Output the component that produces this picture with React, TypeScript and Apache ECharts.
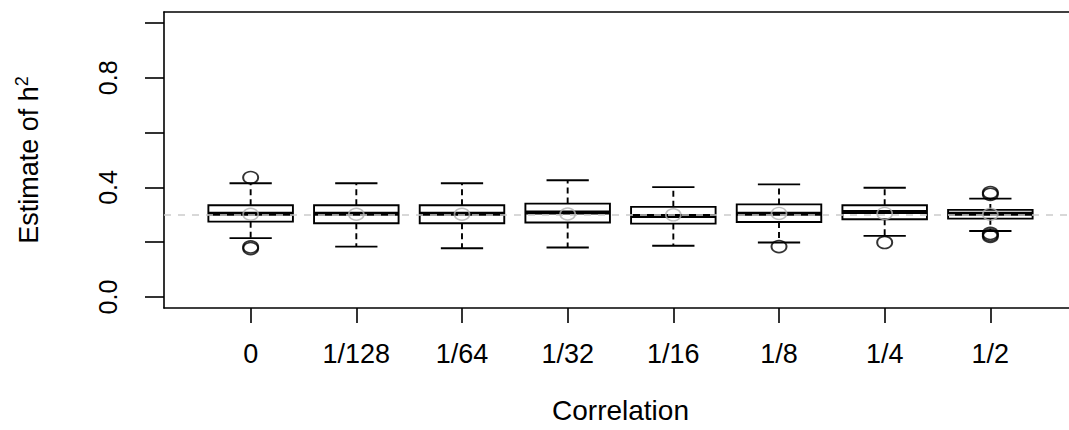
import React, { useEffect, useRef } from "react";
import * as echarts from "echarts";

const categories = ["0", "1/128", "1/64", "1/32", "1/16", "1/8", "1/4", "1/2"];
const whiskerLow = [0.215, 0.184, 0.178, 0.181, 0.187, 0.199, 0.223, 0.241];
const q1 = [0.275, 0.269, 0.269, 0.272, 0.268, 0.274, 0.284, 0.286];
const median = [0.304, 0.304, 0.304, 0.308, 0.296, 0.304, 0.31, 0.304];
const q3 = [0.335, 0.335, 0.335, 0.341, 0.329, 0.338, 0.335, 0.318];
const whiskerHigh = [0.415, 0.415, 0.415, 0.426, 0.401, 0.411, 0.399, 0.359];
const means = [0.302, 0.302, 0.302, 0.303, 0.3, 0.305, 0.305, 0.302];
const outlierGroup = [1, 1, 1, 6, 7, 8, 8, 8, 8, 8];
const outlierValue = [0.436, 0.183, 0.177, 0.184, 0.199, 0.381, 0.375, 0.232, 0.226, 0.221];
const trueH2 = 0.3;
const yTicks = [0, 0.2, 0.4, 0.6, 0.8, 1.0];
const yLabels = [0, 0.4, 0.8];

const FONT = "Liberation Sans, Arial, Helvetica, sans-serif";

export default function App() {
  const ref = useRef<HTMLDivElement>(null);
  useEffect(() => {
    if (!ref.current) return;
    const chart = echarts.init(ref.current, null, { renderer: "svg" });
    const positions = categories.map((_, i) => i + 1);
    const boxData = categories.map((_, i) => [
      positions[i],
      whiskerLow[i],
      q1[i],
      median[i],
      q3[i],
      whiskerHigh[i],
    ]);
    const renderItem = (params: any, api: any) => {
      const x = api.value(0);
      const pLo = api.coord([x, api.value(1)]);
      const pQ1 = api.coord([x, api.value(2)]);
      const pMed = api.coord([x, api.value(3)]);
      const pQ3 = api.coord([x, api.value(4)]);
      const pHi = api.coord([x, api.value(5)]);
      const w = api.size([0.8, 0])[0];
      const cx = pMed[0];
      const black = "#000";
      const lw = 1.9;
      return {
        type: "group",
        children: [
          {
            type: "line",
            shape: { x1: cx, y1: pQ3[1], x2: cx, y2: pHi[1] },
            style: { stroke: black, lineWidth: lw, lineDash: [6, 4] },
          },
          {
            type: "line",
            shape: { x1: cx, y1: pQ1[1], x2: cx, y2: pLo[1] },
            style: { stroke: black, lineWidth: lw, lineDash: [6, 4] },
          },
          {
            type: "line",
            shape: { x1: cx - w / 4, y1: pHi[1], x2: cx + w / 4, y2: pHi[1] },
            style: { stroke: black, lineWidth: lw },
          },
          {
            type: "line",
            shape: { x1: cx - w / 4, y1: pLo[1], x2: cx + w / 4, y2: pLo[1] },
            style: { stroke: black, lineWidth: lw },
          },
          {
            type: "rect",
            shape: { x: cx - w / 2, y: pQ3[1], width: w, height: pQ1[1] - pQ3[1] },
            style: { fill: "none", stroke: black, lineWidth: lw },
          },
          {
            type: "line",
            shape: { x1: cx - w / 2, y1: pMed[1], x2: cx + w / 2, y2: pMed[1] },
            style: { stroke: black, lineWidth: 4 },
          },
        ],
      };
    };

    chart.setOption({
      animation: false,
      grid: {
        left: 164,
        top: 12,
        right: -8,
        height: 296,
        show: false,
        containLabel: false,
        outerBoundsMode: "none",
      },
      xAxis: [
        {
          type: "value",
          min: 0.18,
          max: 8.82,
          name: "Correlation",
          nameLocation: "middle",
          nameGap: 88,
          nameTextStyle: { fontSize: 28, color: "#000", fontFamily: FONT },
          axisLine: { show: true, onZero: false, lineStyle: { color: "#000", width: 1.6 } },
          axisTick: {
            show: true,
            length: 15,
            customValues: positions,
            lineStyle: { color: "#000", width: 1.6 },
          },
          axisLabel: {
            customValues: positions,
            formatter: (v: number) => categories[Math.round(v) - 1] ?? "",
            fontSize: 27,
            color: "#000",
            fontFamily: FONT,
            margin: 32,
          },
          splitLine: { show: false },
        },
        {
          type: "value",
          position: "top",
          min: 0.18,
          max: 8.82,
          axisLine: { show: true, onZero: false, lineStyle: { color: "#000", width: 1.6 } },
          axisTick: { show: false },
          axisLabel: { show: false },
          splitLine: { show: false },
        },
      ],
      yAxis: {
        type: "value",
        min: -0.04,
        max: 1.04,
        name: "Estimate of h{sup|2}",
        nameLocation: "middle",
        nameGap: 120,
        nameTextStyle: {
          fontSize: 27,
          color: "#000",
          fontFamily: FONT,
          rich: {
            sup: { fontSize: 18, color: "#000", fontFamily: FONT, padding: [0, 0, 13, 0] },
          },
        },
        axisLine: { show: true, onZero: false, lineStyle: { color: "#000", width: 1.6 } },
        axisTick: {
          show: true,
          length: 19,
          customValues: yTicks,
          lineStyle: { color: "#000", width: 1.6 },
        },
        axisLabel: {
          customValues: yLabels,
          formatter: (v: number) => v.toFixed(1),
          rotate: 90,
          fontSize: 25,
          color: "#000",
          fontFamily: FONT,
          margin: 44,
        },
        splitLine: { show: false },
      },
      series: [
        {
          type: "custom",
          renderItem,
          data: boxData,
          encode: { x: 0, y: [1, 2, 3, 4, 5] },
          z: 2,
          silent: true,
        },
        {
          type: "scatter",
          data: outlierGroup.map((g, i) => [g, outlierValue[i]]),
          symbol: "circle",
          symbolSize: [15, 12],
          itemStyle: { color: "transparent", borderColor: "#000", borderWidth: 1.8 },
          z: 3,
          silent: true,
        },
        {
          type: "line",
          data: [],
          z: 4,
          markLine: {
            silent: true,
            symbol: ["none", "none"],
            label: { show: false },
            lineStyle: { color: "#cccccc", type: [7, 7], width: 1.6 },
            data: [{ yAxis: trueH2 }],
          },
        },
        {
          type: "scatter",
          data: positions.map((p, i) => [p, means[i]]),
          symbol: "circle",
          symbolSize: [15, 12],
          itemStyle: { color: "transparent", borderColor: "#b0b0b0", borderWidth: 1.6 },
          z: 5,
          silent: true,
        },
      ],
    });
    return () => chart.dispose();
  }, []);
  return (
    <div
      ref={ref}
      style={{ position: "absolute", left: 0, top: 0, width: 1069, height: 430, background: "#fff" }}
    />
  );
}
